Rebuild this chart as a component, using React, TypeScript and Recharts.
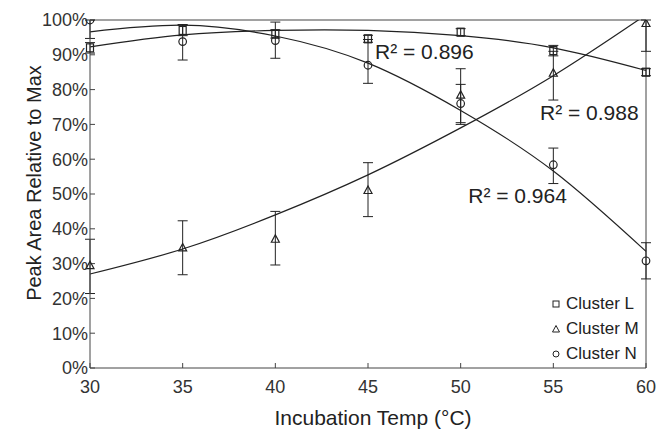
import { ComposedChart, XAxis, YAxis, Line, Scatter, ErrorBar, ReferenceLine, ReferenceDot } from 'recharts';

const temps = [30, 35, 40, 45, 50, 55, 60];
const xTicks = [30, 35, 40, 45, 50, 55, 60];
const yTicks = [0, 10, 20, 30, 40, 50, 60, 70, 80, 90, 100];

// measured points (% of max) and error bar [below, above]
const clusterL = [92, 97, 96, 94.6, 96.5, 91.2, 85];
const clusterLErr = [[1.5, 1.5], [1.5, 1.5], [1.2, 1.2], [1, 1], [1, 1], [1.5, 1.5], [1, 1]];
const clusterM = [29.4, 34.5, 37, 51, 78.4, 84.7, 99];
const clusterMErr = [[8, 7.6], [7.7, 7.8], [7.4, 8], [7.5, 8], [8.4, 7.6], [7.7, 6.3], [8, 1]];
const clusterN = [100, 93.8, 94.1, 87, 76, 58.4, 30.8];
const clusterNErr = [[5.3, 0], [5.3, 4.9], [5.1, 5.3], [5.2, 7.4], [5.5, 5.5], [5.4, 4.8], [5.2, 5.2]];

// quadratic fit curves
const fitL = [92.3, 95.7, 97, 97, 95.5, 92, 85.5];
const fitM = [27, 34.2, 44, 55.5, 69, 84, 101.5];
const fitN = [96.6, 98.5, 95.4, 87.6, 74, 56.6, 33.5];

const toPoints = (ys: number[], errs?: number[][]) =>
  temps.map((x, i) => ({ x, y: ys[i], err: errs ? errs[i] : undefined }));

const INK = '#222';
const FONT = 'Liberation Sans, Arial, sans-serif';

const Square = (p: any) => <rect x={p.cx - 3.5} y={p.cy - 4} width={7} height={8} fill="none" stroke={INK} strokeWidth={1.2} />;
const Triangle = (p: any) => (
  <path d={`M${p.cx},${p.cy - 4.5} L${p.cx + 4},${p.cy + 3} L${p.cx - 4},${p.cy + 3} Z`} fill="none" stroke={INK} strokeWidth={1.2} />
);
const Circle = (p: any) => <circle cx={p.cx} cy={p.cy} r={3.8} fill="none" stroke={INK} strokeWidth={1.2} />;

const legendItems = [
  { name: 'Cluster L', kind: 'square' },
  { name: 'Cluster M', kind: 'triangle' },
  { name: 'Cluster N', kind: 'circle' },
];

function LegendMark({ kind }: { kind: string }) {
  return (
    <svg width={10} height={10} style={{ marginRight: 5 }}>
      {kind === 'square' && <rect x={2} y={2} width={6} height={6} fill="none" stroke={INK} />}
      {kind === 'triangle' && <path d="M5,1.5 L8.5,8 L1.5,8 Z" fill="none" stroke={INK} />}
      {kind === 'circle' && <circle cx={5} cy={5} r={3} fill="none" stroke={INK} />}
    </svg>
  );
}

const YTitle = () => (
  <text x={34} y={183} transform="rotate(-90 34 183)" textAnchor="middle" dominantBaseline="central" fill={INK} fontSize={20} fontFamily={FONT}>
    Peak Area Relative to Max
  </text>
);

const XTitle = () => (
  <text x={373} y={425} textAnchor="middle" fill={INK} fontSize={21} fontFamily={FONT}>
    Incubation Temp (°C)
  </text>
);

export default function App() {
  const tickStyle = { fill: '#333', fontSize: 18, fontFamily: FONT };
  return (
    <div style={{ position: 'absolute', left: 0, top: 0, width: 661, height: 429, background: '#fff' }}>
      <ComposedChart width={661} height={429} margin={{ top: 20, right: 15, bottom: 0, left: 0 }}>
        <XAxis
          type="number"
          dataKey="x"
          domain={[30, 60]}
          ticks={xTicks}
          tickSize={-5}
          tickMargin={17}
          stroke="#444"
          tick={tickStyle}
          height={61}
          label={{ content: XTitle }}
        />
        <YAxis
          type="number"
          dataKey="y"
          domain={[0, 100]}
          ticks={yTicks}
          allowDataOverflow
          tickFormatter={(v) => `${v}%`}
          tickSize={-5}
          tickMargin={7}
          stroke="#444"
          tick={tickStyle}
          width={90}
          label={{ content: YTitle }}
        />
        <ReferenceLine y={100} stroke="#444" />
        <ReferenceLine x={60} stroke="#444" />

        <Line data={toPoints(fitL)} dataKey="y" type="natural" dot={false} stroke={INK} strokeWidth={1.2} isAnimationActive={false} />
        <Line data={toPoints(fitM)} dataKey="y" type="natural" dot={false} stroke={INK} strokeWidth={1.2} isAnimationActive={false} />
        <Line data={toPoints(fitN)} dataKey="y" type="natural" dot={false} stroke={INK} strokeWidth={1.2} isAnimationActive={false} />

        <Scatter data={toPoints(clusterL, clusterLErr)} shape={Square} isAnimationActive={false}>
          <ErrorBar dataKey="err" direction="y" width={5} stroke={INK} strokeWidth={1} />
        </Scatter>
        <Scatter data={toPoints(clusterM, clusterMErr)} shape={Triangle} isAnimationActive={false}>
          <ErrorBar dataKey="err" direction="y" width={5} stroke={INK} strokeWidth={1} />
        </Scatter>
        <Scatter data={toPoints(clusterN, clusterNErr)} shape={Circle} isAnimationActive={false}>
          <ErrorBar dataKey="err" direction="y" width={5} stroke={INK} strokeWidth={1} />
        </Scatter>

        <ReferenceDot x={45.38} y={90.8} r={0} stroke="none" label={{ value: 'R² = 0.896', position: 'right', offset: 0, fill: '#222', fontSize: 21, fontFamily: FONT }} />
        <ReferenceDot x={54.28} y={73.4} r={0} stroke="none" label={{ value: 'R² = 0.988', position: 'right', offset: 0, fill: '#222', fontSize: 21, fontFamily: FONT }} />
        <ReferenceDot x={50.41} y={49.5} r={0} stroke="none" label={{ value: 'R² = 0.964', position: 'right', offset: 0, fill: '#222', fontSize: 21, fontFamily: FONT }} />
      </ComposedChart>
      <div style={{ position: 'absolute', left: 551, top: 291, fontFamily: FONT, fontSize: 17, color: '#222', lineHeight: '25px' }}>
        {legendItems.map((it) => (
          <div key={it.name} style={{ display: 'flex', alignItems: 'center' }}>
            <LegendMark kind={it.kind} />
            {it.name}
          </div>
        ))}
      </div>
    </div>
  );
}
